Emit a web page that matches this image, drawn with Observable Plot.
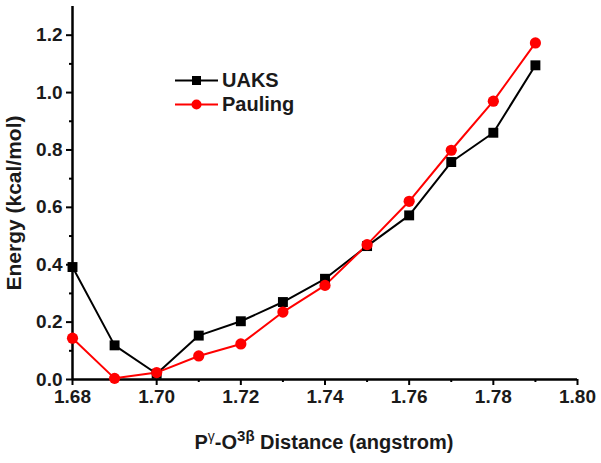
<!DOCTYPE html>
<html>
<head>
<meta charset="utf-8">
<script src="https://cdn.jsdelivr.net/npm/d3@7"></script>
<script src="https://cdn.jsdelivr.net/npm/@observablehq/plot@0.6"></script>
<style>
  html, body { margin: 0; padding: 0; background: #fff; }
  #wrap { position: relative; width: 601px; height: 463px; font-family: "Liberation Sans", Arial, sans-serif; font-weight: bold; }
  #ytitle { position: absolute; left: 14px; top: 203px; transform: translate(-50%, -50%) rotate(-90deg); font-size: 21px; white-space: nowrap; color: #1a1a1a; }
  #xtitle { position: absolute; left: 324px; top: 427px; transform: translateX(-50%); font-size: 20px; white-space: nowrap; color: #1a1a1a; }
  #xtitle sup { font-size: 14px; font-weight: normal; }
  #legend { position: absolute; left: 175px; top: 68px; font-size: 20px; color: #1a1a1a; }
  .lg { display: flex; align-items: center; height: 24px; }
  .lg svg { margin-right: 4px; }
</style>
</head>
<body>
<div id="wrap">
  <div id="chart"></div>
  <div id="ytitle">Energy (kcal/mol)</div>
  <div id="xtitle">P<sup>γ</sup>-O<sup style="font-weight:bold;font-size:15px">3β</sup> Distance (angstrom)</div>
  <div id="legend"></div>
</div>
<script>
const distance = [1.68, 1.69, 1.70, 1.71, 1.72, 1.73, 1.74, 1.75, 1.76, 1.77, 1.78, 1.79];
const uaks    = [0.392, 0.119, 0.020, 0.153, 0.203, 0.270, 0.351, 0.465, 0.572, 0.758, 0.860, 1.095];
const pauling = [0.144, 0.004, 0.024, 0.082, 0.124, 0.235, 0.328, 0.470, 0.621, 0.799, 0.970, 1.173];
const seriesNames = ["UAKS", "Pauling"];
const seriesColors = ["#000000", "#ff0000"];
const seriesSymbols = ["square", "circle"];
const xMajor = [1.68, 1.70, 1.72, 1.74, 1.76, 1.78, 1.80];
const xMinor = [1.69, 1.71, 1.73, 1.75, 1.77, 1.79];
const yMajor = [0.0, 0.2, 0.4, 0.6, 0.8, 1.0, 1.2];
const yMinor = [0.1, 0.3, 0.5, 0.7, 0.9, 1.1];

const data = [];
distance.forEach((d, i) => {
  data.push({x: d, y: uaks[i], s: "UAKS"});
});
distance.forEach((d, i) => {
  data.push({x: d, y: pauling[i], s: "Pauling"});
});

const chart = Plot.plot({
  width: 601,
  height: 463,
  marginLeft: 72,
  marginRight: 24,
  marginTop: 6,
  marginBottom: 84,
  style: {fontFamily: "Liberation Sans, Arial, sans-serif", fontWeight: "bold", fontSize: "19px", color: "#1a1a1a", background: "#fff"},
  x: {domain: [1.68, 1.80]},
  y: {domain: [0, 1.3]},
  color: {domain: seriesNames, range: seriesColors},
  symbol: {domain: seriesNames, range: seriesSymbols},
  marks: [
    Plot.axisY({ticks: yMajor, tickSize: 6, tickFormat: d3.format(".1f"), label: null, strokeWidth: 2, tickPadding: 4, stroke: "#000", fill: "#1a1a1a", fontSize: 19, fontWeight: "bold"}),
    Plot.axisY({ticks: yMinor, tickSize: 3, tickFormat: () => "", label: null, strokeWidth: 2, stroke: "#000"}),
    Plot.axisX({ticks: xMajor, tickSize: 6, tickFormat: d3.format(".2f"), label: null, strokeWidth: 2, tickPadding: 4, stroke: "#000", fill: "#1a1a1a", fontSize: 19, fontWeight: "bold"}),
    Plot.axisX({ticks: xMinor, tickSize: 3, tickFormat: () => "", label: null, strokeWidth: 2, stroke: "#000"}),
    Plot.ruleX([1.68], {stroke: "#000", strokeWidth: 2.5}),
    Plot.ruleY([0], {stroke: "#000", strokeWidth: 2.5}),
    Plot.line(data, {x: "x", y: "y", z: "s", stroke: "s", strokeWidth: 2}),
    Plot.dot(data, {x: "x", y: "y", symbol: "s", fill: "s", r: 5.6, stroke: "none"})
  ]
});
document.getElementById("chart").appendChild(chart);

const legend = document.getElementById("legend");
seriesNames.forEach((name, i) => {
  const row = document.createElement("div");
  row.className = "lg";
  const sym = seriesSymbols[i] === "square"
    ? `<rect x="17" y="7" width="9" height="9" fill="${seriesColors[i]}"/>`
    : `<circle cx="21.5" cy="11.5" r="5" fill="${seriesColors[i]}"/>`;
  row.innerHTML = `<svg width="43" height="23"><line x1="0" x2="43" y1="11.5" y2="11.5" stroke="${seriesColors[i]}" stroke-width="2"/>${sym}</svg><span>${name}</span>`;
  legend.appendChild(row);
});
</script>
</body>
</html>
